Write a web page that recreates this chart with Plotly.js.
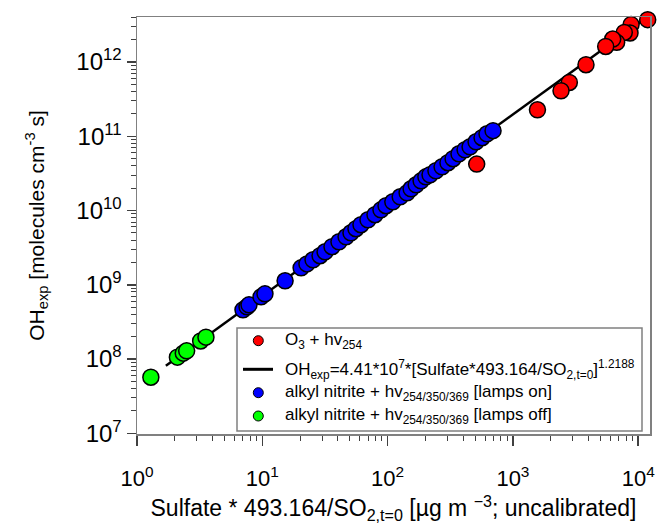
<!DOCTYPE html>
<html>
<head>
<meta charset="utf-8">
<script src="https://cdn.plot.ly/plotly-3.0.1.min.js"></script>
<style>html,body{margin:0;padding:0;background:#fff;}#chart{width:658px;height:525px;}</style>
</head>
<body>
<div id="chart"></div>
<script>
// ---- data ----
var redX = [11900, 8770, 8600, 7740, 6730, 6260, 5500, 3830, 2820, 2420, 1570, 514];
var redY = [3.72e12, 3.19e12, 2.46e12, 2.5e12, 1.84e12, 2.04e12, 1.62e12, 9.2e11, 5.3e11, 4.1e11, 2.27e11, 4.22e10];

var blueX = [7.01, 7.55, 7.83, 9.77, 10.5, 15.2, 20.4, 22.7, 25.4, 28.9, 31.7, 36.0, 40.9, 46.6, 51.0, 55.9, 61.3, 69.7, 79.3, 88.5,
             97.1, 110, 126, 143, 154, 169, 185, 202, 218, 243, 272, 303, 333, 371, 415, 455, 508, 567, 621, 694];
var blueY = [4.59e8, 5.04e8, 5.36e8, 6.87e8, 7.54e8, 1.13e9, 1.69e9, 1.91e9, 2.17e9, 2.46e9, 2.78e9, 3.25e9, 3.79e9, 4.43e9, 5.01e9, 5.68e9, 6.43e9, 7.50e9, 8.77e9, 1.02e10,
             1.16e10, 1.31e10, 1.53e10, 1.73e10, 1.96e10, 2.22e10, 2.51e10, 2.84e10, 3.03e10, 3.43e10, 3.88e10, 4.40e10, 4.98e10, 5.81e10, 6.58e10, 7.21e10, 8.43e10, 9.55e10, 1.08e11, 1.19e11];

var greenX = [1.29, 2.10, 2.34, 2.49, 3.22, 3.55];
var greenY = [5.69e7, 1.06e8, 1.20e8, 1.29e8, 1.75e8, 1.97e8];

var fitX = [1.7, 12000];
var fitY = [8.1e7, 4.1e12];

var xTickVals = [1, 10, 100, 1000, 10000];
var xTickText = ['10<sup>0</sup>', '10<sup>1</sup>', '10<sup>2</sup>', '10<sup>3</sup>', '10<sup>4</sup>'];
var yTickVals = [1e7, 1e8, 1e9, 1e10, 1e11, 1e12];
var yTickText = ['10<sup>7</sup>', '10<sup>8</sup>', '10<sup>9</sup>', '10<sup>10</sup>', '10<sup>11</sup>', '10<sup>12</sup>'];

var names = [
  'O<sub>3</sub> + hv<sub>254</sub>',
  'OH<sub>exp</sub>=4.41*10<sup>7</sup>*[Sulfate*493.164/SO<sub>2,t=0</sub>]<sup>1.2188</sup>',
  'alkyl nitrite + hv<sub>254/350/369</sub> [lamps on]',
  'alkyl nitrite + hv<sub>254/350/369</sub> [lamps off]'
];
var colors = ['#ff0000', '#000000', '#0000ff', '#00ff00'];

// ---- chart ----
var FONT = 'Liberation Sans, Arial, sans-serif';
var mk = function (c) { return {color: c, size: 16, line: {color: '#000', width: 1.5}}; };

var traces = [
  {x: fitX, y: fitY, mode: 'lines', name: names[1], line: {color: colors[1], width: 2.5}, showlegend: false},
  {x: greenX, y: greenY, mode: 'markers', name: names[3], marker: mk(colors[3]), showlegend: false},
  {x: blueX, y: blueY, mode: 'markers', name: names[2], marker: mk(colors[2]), showlegend: false},
  {x: redX, y: redY, mode: 'markers', name: names[0], marker: mk(colors[0]), showlegend: false, cliponaxis: false}
];

var axBase = {
  type: 'log', showgrid: false, zeroline: false,
  showline: true, mirror: true, linecolor: '#808080', linewidth: 1.5,
  ticks: 'outside', tickwidth: 1.5, tickcolor: '#404040',
  tickmode: 'array',
  minor: {dtick: 'D1', ticks: 'outside', ticklen: 5, tickwidth: 1, tickcolor: '#404040'},
  tickfont: {family: FONT, size: 22, color: '#000'}
};

// ---- legend box (drawn in paper coordinates, inside the plot area) ----
var L = 137, T = 17, W = 513, H = 417;
function px(x) { return (x - L) / W; }
function py(y) { return (T + H - y) / H; }
var legRows = [340.7, 369.3, 392.7, 416];
var shapes = [
  {type: 'rect', xref: 'paper', yref: 'paper', x0: px(237), x1: px(642), y0: py(431), y1: py(328),
   line: {color: '#808080', width: 1.5}, fillcolor: '#fff', layer: 'above'}
];
var annotations = [];
for (var i = 0; i < names.length; i++) {
  if (i === 1) {
    shapes.push({type: 'line', xref: 'paper', yref: 'paper', x0: px(243), x1: px(273), y0: py(legRows[i]), y1: py(legRows[i]),
                 line: {color: colors[i], width: 3}, layer: 'above'});
  } else {
    shapes.push({type: 'circle', xref: 'paper', yref: 'paper', xsizemode: 'pixel', ysizemode: 'pixel',
                 xanchor: px(258.3), yanchor: py(legRows[i]), x0: -5, x1: 5, y0: -5, y1: 5,
                 fillcolor: colors[i], line: {color: '#000', width: 1}, layer: 'above'});
  }
  annotations.push({xref: 'paper', yref: 'paper', x: px(283), y: py(legRows[i]), xanchor: 'left', yanchor: 'middle',
                    text: names[i], showarrow: false, font: {family: FONT, size: 17, color: '#000'}});
}

var layout = {
  width: 658, height: 525,
  margin: {l: L, r: 658 - L - W, t: T, b: 525 - T - H},
  paper_bgcolor: '#fff', plot_bgcolor: '#fff',
  font: {family: FONT, color: '#000'},
  showlegend: false,
  xaxis: Object.assign({}, axBase, {
    range: [0, 4.094], tickvals: xTickVals, ticktext: xTickText, ticklen: 10, ticklabelstandoff: 14,
    title: {text: 'Sulfate * 493.164/SO<sub>2,t=0</sub> [µg m <sup>−3</sup>; uncalibrated]',
            font: {family: FONT, size: 23, color: '#000'}, standoff: 10}
  }),
  yaxis: Object.assign({}, axBase, {
    range: [6.99, 12.606], tickvals: yTickVals, ticktext: yTickText, ticklen: 9,
    tickfont: {family: FONT, size: 24, color: '#000'},
    title: {text: 'OH<sub>exp</sub> [molecules cm<sup>-3</sup> s]',
            font: {family: FONT, size: 21, color: '#000'}, standoff: 26}
  }),
  shapes: shapes,
  annotations: annotations
};

Plotly.newPlot('chart', traces, layout, {displayModeBar: false, staticPlot: true});
</script>
</body>
</html>
